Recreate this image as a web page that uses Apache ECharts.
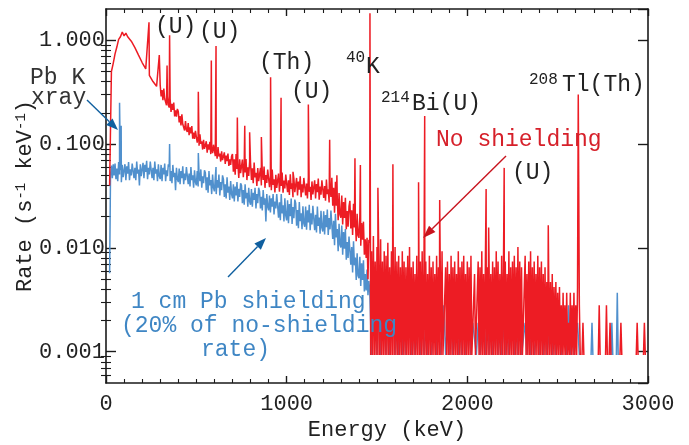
<!DOCTYPE html>
<html><head><meta charset="utf-8">
<script src="https://cdn.jsdelivr.net/npm/echarts@6/dist/echarts.min.js"></script>
<style>html,body{margin:0;padding:0;background:#fff}#c{width:689px;height:445px}</style>
</head><body><div id="c"></div>
<script>
// ---------------- DATA ----------------
const F = 0.00093; // one-count floor level
const _ = null;    // empty channel (below axis)

// axis ticks
const xTickLabels = [0, 1000, 2000, 3000];
const yTickLabels = [0.001, 0.01, 0.1, 1];
const yMinorTicks = [0.0006,0.0007,0.0008,0.0009,
  0.002,0.003,0.004,0.005,0.006,0.007,0.008,0.009,
  0.02,0.03,0.04,0.05,0.06,0.07,0.08,0.09,
  0.2,0.3,0.4,0.5,0.6,0.7,0.8,0.9];

// ---- No shielding (red) ----
// 20..290 keV every 10 keV
const redA1Start = 20, redA1Step = 10;
const redA1 = [
 .04,.50,.60,.74,.86,1.02,1.08,1.20,1.10,1.17,
 1.08,1.12,.98,.98,.85,.84,.72,.72,.61,.62,
 .53,.54,.46,.47,.40,.41,.36,.36
];
// 300..1455 keV every 5 keV
const redA2Start = 300, redA2Step = 5;
const redA2 = [
 .37,.288,.331,.265,.342,.273,.283,.237,.289,.237,
 .225,.272,.204,.244,.214,.251,.185,.211,.184,.218,
 .207,.162,.186,.151,.194,.155,.162,.135,.167,.137,
 .131,.159,.122,.145,.127,.149,.113,.129,.112,.134,
 .131,.1035,.119,.0966,.124,.1006,.106,.0886,.110,.090,
 .0873,.1066,.0827,.0996,.0884,.1049,.0801,.0927,.0819,.0986,
 .0963,.0765,.0882,.0722,.0935,.0761,.0808,.0679,.085,.0701,
 .0684,.0833,.0644,.0774,.0684,.0809,.0616,.0711,.063,.0762,
 .0804,.0541,.0713,.0507,.080,.0576,.0643,.0471,.0713,.0525,
 .0519,.0708,.048,.0649,.0534,.0719,.045,.0599,.0493,.0678,
 .066,.0451,.0583,.0421,.0663,.0477,.053,.0395,.0587,.0439,
 .0434,.059,.04,.0539,.0451,.0608,.0379,.0504,.0422,.0569,
 .0564,.0385,.0497,.0359,.0569,.0405,.0459,.0342,.0506,.0378,
 .0374,.0519,.0348,.0479,.0396,.0533,.034,.0446,.0374,.0508,
 .0504,.0344,.0448,.0324,.0513,.0369,.0418,.0308,.0466,.0344,
 .034,.0472,.032,.0435,.0363,.049,.0308,.041,.0343,.0472,
 .0468,.032,.0416,.030,.0481,.0347,.0388,.0289,.0437,.0327,
 .0323,.0448,.030,.0413,.0345,.0465,.0292,.0389,.0326,.0448,
 .0444,.0303,.0394,.0285,.0456,.0329,.0367,.0274,.0414,.031,
 .0473,.0255,.038,.0218,.0434,.0255,.0305,.0185,.0338,.0208,
 .0195,.0319,.0168,.0276,.0194,.0304,.0151,.0226,.016,.0251,
 .0284,.0154,.023,.0133,.0266,.0157,.0189,.0116,.0213,.0132,
 .0125,.0202,.0105,.0174,.012,.0179,.0086,.0121,.008,.0125,
 .005,.012
];
// 1460..2610 keV every 5 keV
const redBStart = 1460, redBStep = 5;
const redB = [
 .0112,F,.0093,F,.0130,F,.0074,F,.0102,F,.0084,F,.0121,F,.0074,F,.0093,F,.0084,F,
 .0112,F,.0065,F,.0093,F,.0074,F,.0102,F,.0074,F,.0084,F,.0065,F,.0093,F,.0074,F,
 .0065,F,.0084,F,.0102,F,.0065,F,.0074,F,.0056,F,.0084,F,.0065,F,.0074,F,.0093,F,
 .0065,F,.0074,F,.0056,F,.0084,F,.0065,F,.0074,F,.0056,F,.0084,F,.0065,F,.0074,F,
 .0093,F,F,F,.0065,F,.0074,F,.0056,F,.0084,F,.0065,F,.0074,F,.0056,F,.0093,F,
 .0065,F,.0074,F,.0084,F,.0056,F,.0074,F,.0065,F,.0084,F,F,F,.0056,F,F,F,
 .0074,F,.0065,F,.0093,F,.0056,F,.0074,F,.0065,F,.0084,F,.0056,F,.0074,F,.0065,F,
 .0093,F,.0074,F,.0056,F,.0084,F,.0065,F,.0074,F,.0056,F,.0093,F,.0065,F,.0074,F,
 .0084,F,.0065,F,.0102,F,.0074,F,.0065,F,F,F,.0084,F,.0056,F,.0074,F,.0093,F,
 .0065,F,.0074,F,.0056,F,.0084,F,.0065,F,.0074,F,.0056,F,.0065,F,.0047,F,.0065,F,
 .0047,F,.0056,F,.0042,F,.0047,F,.0037,F,.0042,F,.0028,F,.0037,F,.0028,F,.0037,F,
 .0019,F,.0037,F,.0028,F,.0037,F,.0028,F,.0042
];
// 2620..3000 keV every 5 keV (null = empty channel)
const redCStart = 2620, redCStep = 5;
const redC = [
 .0028,F,_,F,.0019,F,_,_,_,_,
 _,_,_,_,_,_,_,_,_,_,
 _,F,.0028,F,_,_,_,_,_,F,
 .0028,F,_,F,.0019,F,_,_,_,_,
 _,_,_,_,_,F,.0019,F,_,_,
 _,_,_,_,_,_,_,_,_,_,
 _,_,_,F,.0019,F,_,_,_,_,
 _,F,.0019,F,_,_,_
];
// red lines (keV) and their heights
const redPeakE = [238,295,338,352,511,583,609,727,768,795,860,911,969,1035,1120,1238,1278,1378,1408,1461,1505,1588,1730,1764,1847,2104,2118,2204,2448,2614];
const redPeakH = [1.49,.72,.57,1.12,.32,.64,.88,.18,.15,.13,.117,.44,.28,.054,.24,.11,.05,.073,.063,1.82,.038,.064,.043,.186,.029,.037,.0157,.059,.0165,.30];

// ---- 1 cm Pb shielding (blue) ----
// 20..1455 keV every 5 keV
const blueAStart = 20, blueAStep = 5;
const blueA = [
 .0057,.05,.062,.047,.064,.05,
 .065,.046,.058,.044,.067,.051,.056,.043,.063,.048,
 .047,.064,.045,.061,.052,.067,.045,.057,.050,.065,
 .066,.047,.059,.045,.068,.052,.057,.040,.064,.049,
 .049,.066,.047,.063,.054,.069,.046,.059,.051,.068,
 .066,.047,.059,.045,.068,.052,.057,.044,.064,.049,
 .046,.063,.044,.059,.051,.065,.044,.056,.049,.064,
 .061,.044,.055,.042,.063,.048,.053,.036,.059,.046,
 .043,.058,.041,.055,.047,.061,.041,.052,.045,.060,
 .058,.041,.052,.039,.060,.045,.050,.038,.056,.043,
 .040,.055,.039,.052,.044,.057,.038,.049,.042,.056,
 .053,.036,.048,.034,.055,.040,.045,.033,.051,.038,
 .035,.048,.033,.045,.038,.051,.032,.043,.036,.050,
 .046,.031,.041,.030,.048,.034,.039,.029,.044,.033,
 .030,.041,.028,.039,.032,.043,.028,.037,.031,.042,
 .040,.027,.036,.026,.041,.030,.034,.025,.038,.028,
 .026,.037,.025,.034,.029,.038,.024,.033,.027,.038,
 .035,.024,.031,.023,.036,.026,.030,.018,.033,.025,
 .023,.032,.022,.030,.025,.033,.021,.028,.024,.033,
 .032,.0195,.0275,.0185,.033,.0215,.0258,.018,.030,.0205,
 .0184,.0288,.0173,.0265,.0202,.0299,.017,.0248,.0193,.0292,
 .0269,.0164,.0231,.0155,.0277,.0181,.0216,.0151,.0252,.0172,
 .016,.025,.015,.023,.0176,.026,.0148,.0216,.0168,.0254,
 .0243,.0148,.0209,.0141,.0251,.0163,.0196,.0137,.0228,.0156,
 .0144,.0225,.0135,.0207,.0158,.0234,.0133,.0194,.0151,.0229,
 .0223,.0122,.0183,.0106,.0213,.0126,.0152,.0093,.0171,.0107,
 .0101,.0164,.0086,.0142,.0098,.0152,.0077,.0114,.008,.0129,
 .0128,.0069,.0102,.0058,.0116,.0068,.0081,.0049,.0089,.0054,
 .0051,.0082,.0043,.0071,.0049,.0076,.0038,.0056,.0039,.0062,
 .0035,.0048
];
// 1460..2610 keV every 10 keV
const blueBStart = 1460, blueBStep = 10;
const blueB = [
 .0038,F,.0028,.0038,F,.0028,F,.0038,.0019,F,
 .0028,F,.0019,.0028,F,.0019,F,.0028,F,.0019,
 F,.0019,.0028,F,.0019,F,F,.0019,F,.0028,
 F,.0019,F,.0019,F,F,.0019,F,.0019,F,
 F,.0028,F,.0019,F,.0019,F,F,.0019,F,
 .0019,F,.0028,F,F,.0019,F,.0019,.0019,F,
 .0019,F,F,.0019,F,.0028,F,.0019,F,F,
 .0019,F,.0019,F,.0019,F,.0019,F,F,.0019,
 F,.0019,F,.0028,F,F,.0019,F,.0019,F,
 .0019,F,F,.0019,F,.0019,F,.0019,F,F,
 .0019,F,.0019,F,F,.0019,F,F,.0019,F,
 .0028,F,.0019,F,F,.0019
];
// 2620..3000 keV every 5 keV
const blueCStart = 2620, blueCStep = 5;
const blueC = [
 F,_,_,_,_,_,_,_,_,_,
 _,_,_,F,.0019,F,_,_,_,_,
 _,_,_,_,_,_,_,_,_,_,
 _,_,_,_,_,F,.0019,F,_,_,
 _,F,.0037,F,_,_,_,_,_,_,
 _,_,_,_,_,_,_,_,_,_,
 _,_,_,_,_,_,_,_,_,_,
 _,_,_,_,_,_,_
];
const bluePeakE = [75, 84, 352, 511, 609];
const bluePeakH = [.25, .15, .10, .082, .06];

// ---------------- BUILD ----------------
function seg(start, step, vals){ return vals.map((v,i)=>[start + i*step, v]); }
function peaks(es, hs){ return es.map((e,i)=>[e, hs[i]]); }
const byE = (a,b)=>a[0]-b[0];
const redData = [].concat(seg(redA1Start,redA1Step,redA1), seg(redA2Start,redA2Step,redA2),
  seg(redBStart,redBStep,redB), seg(redCStart,redCStep,redC), peaks(redPeakE,redPeakH)).sort(byE);
const blueData = [].concat(seg(blueAStart,blueAStep,blueA), seg(blueBStart,blueBStep,blueB),
  seg(blueCStart,blueCStep,blueC), peaks(bluePeakE,bluePeakH)).sort(byE);

const FONT = '"Liberation Mono", "DejaVu Sans Mono", monospace';
const INK = '#1a1a1a';
const RED = '#ed1c24', BLUE = '#5090cd';
const YMIN = 0.0005, YMAX = 2;

const axLine = {show:true, onZero:false, lineStyle:{color:INK, width:1.6}};
function xAx(pos, labels){
  return {type:'value', position:pos, min:0, max:3000, interval:1000,
    axisLine:axLine, splitLine:{show:false},
    axisTick:{show:true, inside:true, length:7, lineStyle:{color:INK, width:1.4}},
    minorTick:{show:true, splitNumber:10, length:4, lineStyle:{color:INK, width:1.1}},
    axisLabel:{show:labels, margin:10, fontFamily:FONT, fontSize:22, color:'#222',
      customValues: xTickLabels, formatter:(v)=>String(v)}};
}
function yLog(pos, labels){
  return {type:'log', logBase:10, position:pos, min:YMIN, max:YMAX,
    axisLine:axLine, splitLine:{show:false}, minorTick:{show:false},
    axisTick:{show:true, inside:true, length:10, lineStyle:{color:INK, width:1.4}},
    axisLabel:{show:labels, margin:1, fontFamily:FONT, fontSize:22, color:'#222',
      showMinLabel:false, showMaxLabel:false,
      formatter:(v)=> yTickLabels.some(t=>Math.abs(Math.log10(v)-Math.log10(t))<1e-6) ? Number(v).toFixed(3) : ''}};
}
function yMinor(pos){
  return {type:'value', position:pos, min:Math.log10(YMIN), max:Math.log10(YMAX),
    axisLine:{show:false}, splitLine:{show:false}, axisLabel:{show:false},
    axisTick:{show:true, inside:true, length:5, lineStyle:{color:INK, width:1.1},
      customValues: yMinorTicks.map(v=>Math.log10(v))}};
}

const xBottom = xAx('bottom', true);
xBottom.name = 'Energy (keV)';
xBottom.nameLocation = 'middle';
xBottom.nameGap = 36;
xBottom.nameMoveOverlap = false;
xBottom.nameTextStyle = {fontFamily:FONT, fontSize:22, color:'#222', padding:[0,0,0,20]};
const yLeft = yLog('left', true);
yLeft.name = 'Rate (s{sup|-1} keV{sup|-1})';
yLeft.nameLocation = 'middle';
yLeft.nameGap = 70;
yLeft.nameMoveOverlap = false;
yLeft.nameTextStyle = {fontFamily:FONT, fontSize:22, color:'#222',
  rich:{sup:{fontFamily:FONT, fontSize:14, color:'#222', verticalAlign:'top'}}};

// annotations (pixel layout)
const AF = (s)=> s + 'px ' + FONT;
function txt(t, x, y, size, color){
  return {type:'text', z:100, style:{text:t, x:x, y:y, font:AF(size), fill:color,
    textAlign:'left', align:'left', textVerticalAlign:'middle', verticalAlign:'middle'}};
}
function arrow(x1,y1,x2,y2,color,len,hw){
  const dx=x2-x1, dy=y2-y1, d=Math.hypot(dx,dy), ux=dx/d, uy=dy/d;
  const bx=x2-ux*len, by=y2-uy*len;
  return [
    {type:'line', z:100, shape:{x1:x1,y1:y1,x2:bx,y2:by}, style:{stroke:color, lineWidth:1.4}},
    {type:'polygon', z:100, shape:{points:[[x2,y2],[bx-uy*hw, by+ux*hw],[bx+uy*hw, by-ux*hw]]}, style:{fill:color}}
  ];
}
const DARK = '#222', TBLUE = '#3f86c4', TRED = '#d6202a', ABLUE = '#0f5f9f', ARED = '#c8141e';
const graphics = [
  txt('(U)', 155, 27, 23, DARK),
  txt('(U)', 199, 32, 23, DARK),
  txt('(Th)', 259, 63, 23, DARK),
  txt('(U)', 291, 92, 23, DARK),
  txt('40', 346, 58, 16, DARK), txt('K', 366, 67, 23, DARK),
  txt('214', 381, 98, 16, DARK), txt('Bi(U)', 412, 104, 23, DARK),
  txt('208', 529, 80, 16, DARK), txt('Tl(Th)', 562, 85, 23, DARK),
  txt('(U)', 512, 173, 23, DARK),
  txt('No shielding', 436, 140, 23, TRED),
  txt('Pb K', 30, 78, 23, '#333'),
  txt('xray', 31, 98, 23, '#333'),
  txt('1 cm Pb shielding', 131, 302, 23, TBLUE),
  txt('(20% of no-shielding', 121, 326, 23, TBLUE),
  txt('rate)', 201, 350, 23, TBLUE)
].concat(
  arrow(87, 100, 118, 130, ABLUE, 12, 4.5),
  arrow(506, 156, 423, 238, ARED, 13, 4.5),
  arrow(228, 277, 266, 238, ABLUE, 12, 4.5)
);

const chart = echarts.init(document.getElementById('c'), null, {renderer:'canvas'});
chart.setOption({
  animation:false,
  backgroundColor:'#fff',
  grid:{left:106, right:41, top:9, bottom:62, containLabel:false, outerBoundsMode:'none'},
  xAxis:[xBottom, xAx('top', false)],
  yAxis:[yLeft, yLog('right', false), yMinor('left'), yMinor('right')],
  series:[
    {name:'1 cm Pb shielding', type:'line', xAxisIndex:0, yAxisIndex:0, data:blueData,
     symbol:'none', showSymbol:false, silent:true, clip:true, connectNulls:false,
     lineStyle:{color:BLUE, width:1.5}, z:2},
    {name:'No shielding', type:'line', xAxisIndex:0, yAxisIndex:0, data:redData,
     symbol:'none', showSymbol:false, silent:true, clip:true, connectNulls:false,
     lineStyle:{color:RED, width:1.5}, z:3}
  ],
  graphic: graphics
});
</script>
</body></html>
